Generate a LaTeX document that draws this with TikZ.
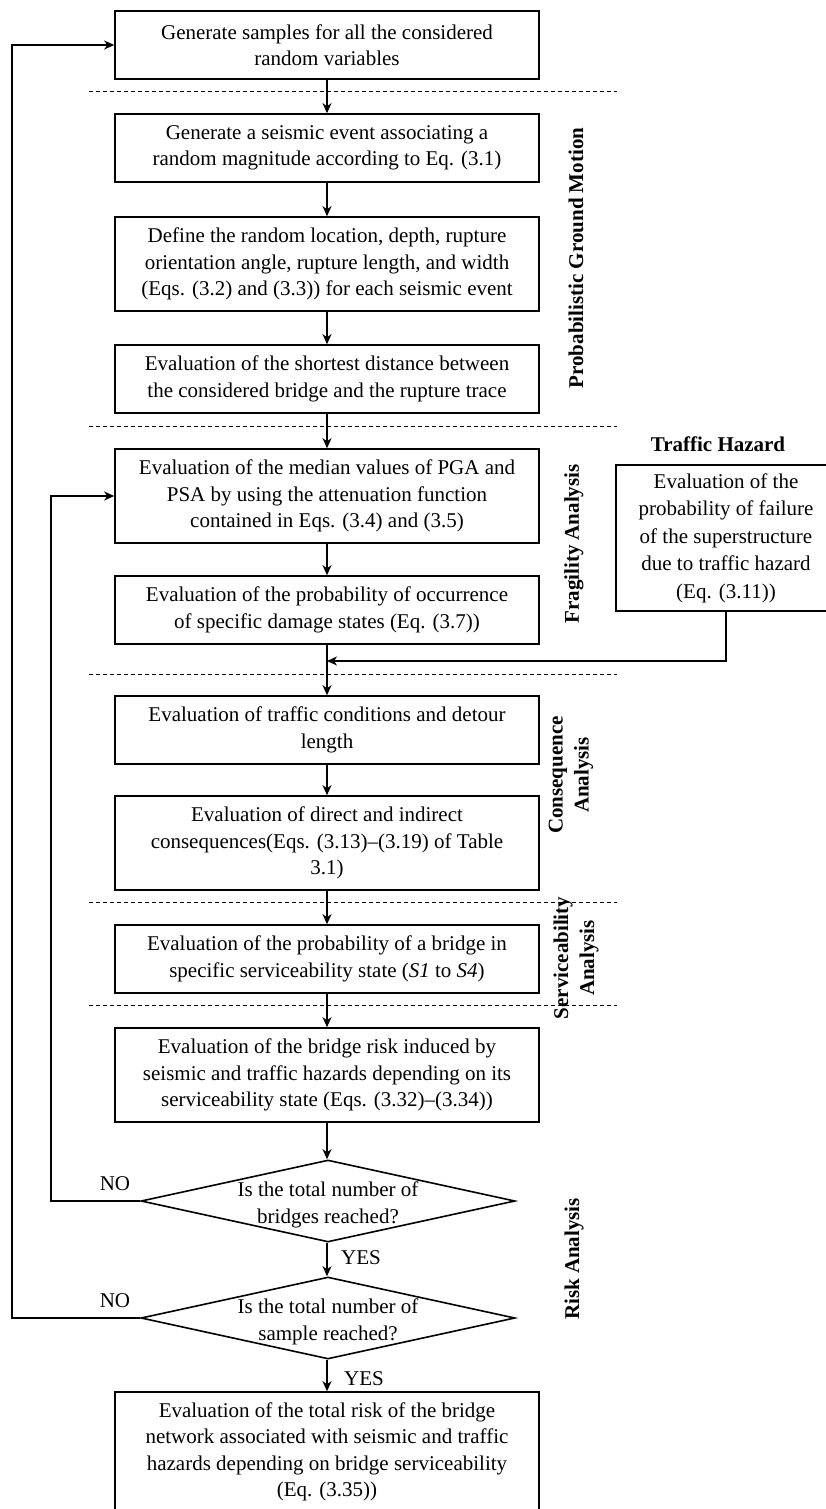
\documentclass[tikz,border=0pt]{standalone}
\usepackage{fontspec}
\setmainfont{Liberation Serif}
\usetikzlibrary{arrows.meta,calc,shapes.geometric}
\begin{document}
\begin{tikzpicture}[x=1pt,y=-1pt,
  box/.style={draw,line width=1.6pt,minimum width=424pt,align=center,inner sep=0pt,
    font=\fontsize{21}{26.5}\selectfont},
  h2/.style={minimum height=68pt},
  h3/.style={minimum height=94pt},
  dia/.style={draw,diamond,line width=1.6pt,inner sep=0pt,minimum width=374pt,minimum height=82pt},
  ttxt/.style={align=center,inner sep=0pt,font=\fontsize{21}{26.5}\selectfont},
  lbl/.style={inner sep=0pt,font=\fontsize{21}{26.5}\selectfont},
  side/.style={rotate=90,align=center,inner sep=0pt,font=\fontsize{21}{26}\selectfont\bfseries},
  arr/.style={line width=1.4pt,-{Stealth[length=10pt,width=9pt,inset=3pt]}},
  ln/.style={line width=1.4pt},
  dline/.style={line width=0.8pt,dash pattern=on 4pt off 3pt}]
\useasboundingbox (0,0) rectangle (825,1509);

% dashed separators
\draw[dline] (89,91) -- (617,91);
\draw[dline] (89,426) -- (617,426);
\draw[dline] (89,674) -- (617,674);
\draw[dline] (89,902) -- (617,902);
\draw[dline] (89,1005) -- (617,1005);

% main boxes
\node[box,h2] (b1) at (327,45) {Generate samples for all the considered\\random variables};
\node[box,h2] (b2) at (327,148) {Generate a seismic event associating a\\random magnitude according to Eq. (3.1)};
\node[box,h3] (b3) at (327,264) {Define the random location, depth, rupture\\orientation angle, rupture length, and width\\(Eqs. (3.2) and (3.3)) for each seismic event};
\node[box,h2] (b4) at (327,379) {Evaluation of the shortest distance between\\the considered bridge and the rupture trace};
\node[box,h3] (b5) at (327,496) {Evaluation of the median values of PGA and\\PSA by using the attenuation function\\contained in Eqs. (3.4) and (3.5)};
\node[box,h2] (b6) at (327,610) {Evaluation of the probability of occurrence\\of specific damage states (Eq. (3.7))};
\node[box,h2] (b7) at (327,730) {Evaluation of traffic conditions and detour\\length};
\node[box,h3] (b8) at (327,843) {Evaluation of direct and indirect\\consequences(Eqs. (3.13)–(3.19) of Table\\3.1)};
\node[box,h2] (b9) at (327,959) {Evaluation of the probability of a bridge in\\specific serviceability state (\textit{S1} to \textit{S4})};
\node[box,h3] (b10) at (327,1075) {Evaluation of the bridge risk induced by\\seismic and traffic hazards depending on its\\serviceability state (Eqs. (3.32)–(3.34))};
\node[dia] (d1) at (328,1201) {};
\node[ttxt] (d1t) at (328,1205) {Is the total number of\\bridges reached?};
\node[dia] (d2) at (328,1318) {};
\node[ttxt] (d2t) at (328,1322) {Is the total number of\\sample reached?};
\node[box,minimum height=120pt] (b11) at (327,1452) {Evaluation of the total risk of the bridge\\network associated with seismic and traffic\\hazards depending on bridge serviceability\\(Eq. (3.35))};

% traffic hazard
\node[lbl,font=\fontsize{21}{26}\selectfont\bfseries] (thl) at (718,444) {Traffic Hazard};
\node[box,minimum width=220pt,minimum height=146pt,font=\fontsize{21}{27.5}\selectfont] (th) at (726,538) {Evaluation of the\\probability of failure\\of the superstructure\\due to traffic hazard\\(Eq. (3.11))};

% side labels
\node[side] (s1) at (576,258) {Probabilistic Ground Motion};
\node[side] (s2) at (574,544) {Fragility Analysis};
\node[side] (s3) at (571,775) {Consequence\\Analysis};
\node[side] (s4) at (576,958) {Serviceability\\Analysis};
\node[side] (s5) at (574,1259) {Risk Analysis};

% yes/no labels
\node[lbl] (no1) at (115,1184) {NO};
\node[lbl] (yes1) at (361,1258) {YES};
\node[lbl] (no2) at (115,1301) {NO};
\node[lbl] (yes2) at (364,1379) {YES};

% helper coordinates
\coordinate (lx1) at (51,0);
\coordinate (lx2) at (12,0);
\coordinate (mj) at (327,661);

% connectors
\draw[arr] (b1) -- (b2);
\draw[arr] (b2) -- (b3);
\draw[arr] (b3) -- (b4);
\draw[arr] (b4) -- (b5);
\draw[arr] (b5) -- (b6);
\draw[arr] (b6) -- (b7);
\draw[arr] (b7) -- (b8);
\draw[arr] (b8) -- (b9);
\draw[arr] (b9) -- (b10);
\draw[arr] (b10.south) -- (b10.south |- d1.north);
\draw[arr] (d1.south -| b10.south) -- (d2.north -| b10.south);
\draw[arr] (d2.south -| b10.south) -- (b11.north);
\draw[arr] (d1.west) -- (d1.west -| lx1) |- (b5.west);
\draw[arr] (d2.west) -- (d2.west -| lx2) |- (b1.west);
\draw[arr] (th.south) |- (mj);
\end{tikzpicture}
\end{document}
